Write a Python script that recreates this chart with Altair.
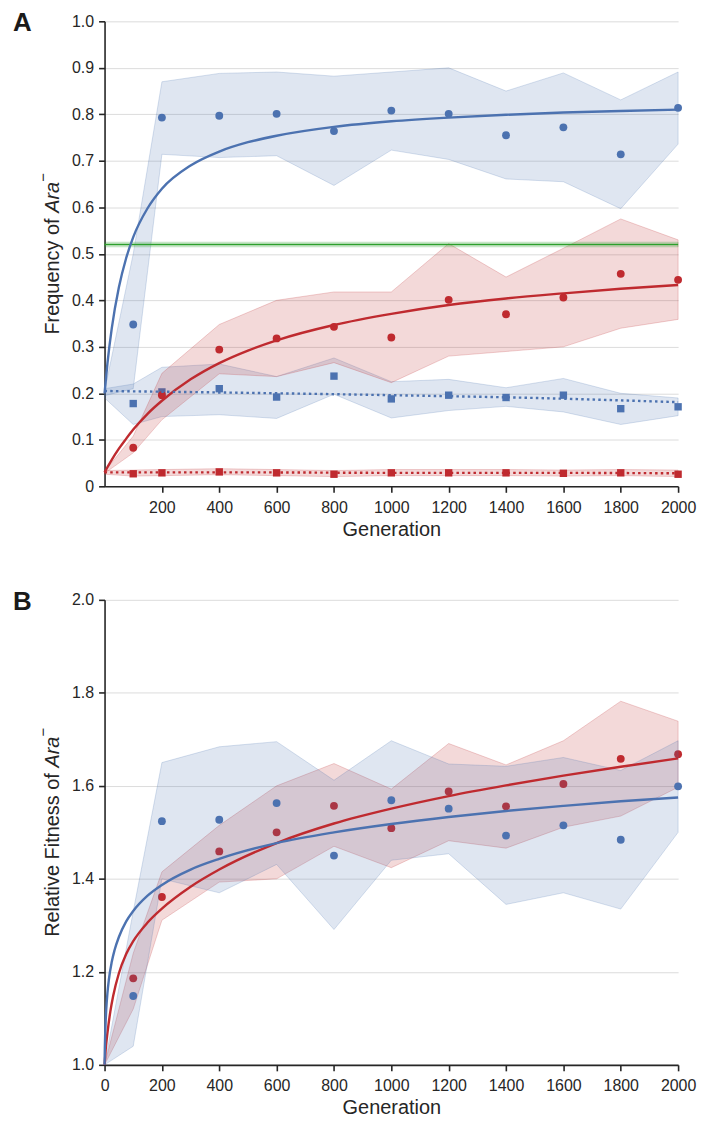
import altair as alt
import pandas as pd

FONT = "Liberation Sans"
BLUE = "#4c72b0"
RED = "#bf2a2f"
GREEN = "#2ca02c"
INK = "#262626"

# ---------------- Panel A data ----------------
gen_pts = [100, 200, 400, 600, 800, 1000, 1200, 1400, 1600, 1800, 2000]
gen_band = [0, 100, 200, 400, 600, 800, 1000, 1200, 1400, 1600, 1800, 2000]

a_blue_circ = [0.348, 0.793, 0.797, 0.801, 0.764, 0.808, 0.801, 0.755, 0.772, 0.714, 0.814]
a_blue_circ_hi = [0.205, 0.50, 0.870, 0.888, 0.891, 0.882, 0.891, 0.900, 0.850, 0.889, 0.831, 0.891]
a_blue_circ_lo = [0.195, 0.21, 0.714, 0.707, 0.711, 0.647, 0.723, 0.703, 0.661, 0.655, 0.597, 0.736]

a_blue_sq = [0.178, 0.203, 0.210, 0.192, 0.237, 0.188, 0.196, 0.191, 0.196, 0.167, 0.171]
a_blue_sq_hi = [0.210, 0.220, 0.256, 0.263, 0.236, 0.276, 0.225, 0.230, 0.212, 0.232, 0.200, 0.190]
a_blue_sq_lo = [0.190, 0.133, 0.150, 0.154, 0.146, 0.198, 0.147, 0.163, 0.172, 0.160, 0.133, 0.152]

a_red_circ = [0.083, 0.196, 0.294, 0.318, 0.343, 0.320, 0.401, 0.370, 0.406, 0.457, 0.444]
a_red_circ_hi = [0.032, 0.108, 0.243, 0.348, 0.400, 0.418, 0.418, 0.522, 0.450, 0.512, 0.575, 0.530]
a_red_circ_lo = [0.028, 0.072, 0.143, 0.242, 0.236, 0.266, 0.223, 0.280, 0.290, 0.300, 0.340, 0.359]

a_red_sq = [0.027, 0.029, 0.031, 0.029, 0.026, 0.029, 0.029, 0.029, 0.028, 0.029, 0.026]
a_red_sq_hi = [0.034, 0.035, 0.036, 0.038, 0.036, 0.034, 0.036, 0.036, 0.036, 0.035, 0.036, 0.035]
a_red_sq_lo = [0.026, 0.022, 0.023, 0.025, 0.023, 0.021, 0.023, 0.023, 0.023, 0.022, 0.023, 0.021]

# fitted curves
a_fit_gen = [0, 10, 25, 50, 75, 100, 150, 200, 300, 400, 500, 600, 800, 1000, 1200, 1400, 1600, 1800, 2000]
a_blue_fit = [0.200, 0.264, 0.339, 0.428, 0.490, 0.536, 0.598, 0.640, 0.690, 0.720, 0.740, 0.754, 0.773,
              0.785, 0.793, 0.799, 0.804, 0.807, 0.810]
a_red_fit = [0.030, 0.041, 0.057, 0.081, 0.102, 0.122, 0.156, 0.184, 0.230, 0.265, 0.292, 0.314, 0.347,
             0.371, 0.390, 0.404, 0.415, 0.425, 0.433]
a_dot_gen = [0, 500, 1000, 1500, 2000]
a_blue_dot = [0.205, 0.201, 0.196, 0.190, 0.181]
a_red_dot = [0.030, 0.030, 0.029, 0.029, 0.028]

green_gen = [0, 2000]
green_val = [0.520, 0.520]
green_hi = [0.525, 0.525]
green_lo = [0.515, 0.515]

# ---------------- Panel B data ----------------
b_blue = [1.148, 1.524, 1.527, 1.563, 1.450, 1.569, 1.551, 1.493, 1.515, 1.484, 1.599]
b_blue_hi = [1.0, 1.33, 1.650, 1.684, 1.695, 1.612, 1.697, 1.647, 1.642, 1.661, 1.633, 1.697]
b_blue_lo = [1.0, 1.04, 1.400, 1.370, 1.431, 1.291, 1.440, 1.454, 1.345, 1.370, 1.335, 1.500]

b_red = [1.186, 1.361, 1.459, 1.500, 1.557, 1.509, 1.588, 1.556, 1.604, 1.658, 1.668]
b_red_hi = [1.0, 1.24, 1.415, 1.515, 1.600, 1.648, 1.593, 1.691, 1.645, 1.697, 1.782, 1.739]
b_red_lo = [1.0, 1.12, 1.311, 1.393, 1.400, 1.470, 1.424, 1.482, 1.466, 1.511, 1.535, 1.597]

b_blue_fit_gen = [0, 1, 2, 4, 6, 10, 15, 25, 35, 50, 75, 100, 150, 200, 300, 400, 600, 800, 1000,
                  1200, 1400, 1600, 1800, 2000]
b_blue_fit = [1.000, 1.036, 1.061, 1.096, 1.120, 1.154, 1.183, 1.221, 1.247, 1.275, 1.308, 1.331,
              1.364, 1.387, 1.420, 1.443, 1.477, 1.500, 1.518, 1.533, 1.546, 1.557, 1.567, 1.575]
b_red_fit_gen = [0, 5, 10, 20, 30, 50, 75, 100, 150, 200, 300, 400, 600, 800, 1000, 1200, 1400,
                 1600, 1800, 2000]
b_red_fit = [1.000, 1.040, 1.068, 1.114, 1.148, 1.197, 1.238, 1.266, 1.306, 1.336, 1.383, 1.420,
             1.477, 1.519, 1.551, 1.578, 1.601, 1.622, 1.641, 1.659]

W, H = 576, 467

# Liberation Sans (Arial metrics) advance widths, 1/1000 em
CW = {"F": 611, "r": 333, "e": 556, "q": 556, "u": 556, "n": 556, "c": 500, "y": 500, " ": 278,
      "o": 556, "f": 278, "R": 722, "l": 222, "a": 556, "t": 278, "i": 222, "v": 500, "s": 500,
      "A": 667, "\u2212": 584}


def tw(s, size):
    return sum(CW.get(ch, 556) for ch in s) * size / 1000.0


def one(df_cols):
    return pd.DataFrame(df_cols)


def band(gens, lo, hi, color, xs, ys):
    df = pd.DataFrame({"g": gens, "lo": lo, "hi": hi})
    return alt.Chart(df).mark_area(color=color, fillOpacity=0.18, stroke=color, strokeOpacity=0.22,
                                   strokeWidth=1).encode(
        x=alt.X("g:Q", scale=xs), y=alt.Y("lo:Q", scale=ys), y2="hi:Q")


def pts(gens, vals, color, shape, size, xs, ys):
    df = pd.DataFrame({"g": gens, "v": vals})
    return alt.Chart(df).mark_point(filled=True, shape=shape, size=size, color=color, opacity=1).encode(
        x=alt.X("g:Q", scale=xs), y=alt.Y("v:Q", scale=ys))


def line(gens, vals, color, xs, ys, dash=None, width=2.4):
    df = pd.DataFrame({"g": gens, "v": vals})
    kw = dict(color=color, strokeWidth=width, interpolate="monotone")
    if dash is not None:
        kw["strokeDash"] = dash
    return alt.Chart(df).mark_line(**kw).encode(x=alt.X("g:Q", scale=xs), y=alt.Y("v:Q", scale=ys))


def label(letter):
    return alt.Chart(one({"t": [letter]})).mark_text(
        align="left", baseline="alphabetic", fontSize=26, fontWeight="bold", font=FONT, color="#1a1a1a"
    ).encode(text="t:N", x=alt.value(-92), y=alt.value(10))


def ytitle(first):
    size = 20
    w1 = tw(first, size)
    w2 = tw("Ara", size)
    w3 = tw("\u2212", 15)
    L = w1 + w2 + w3
    y0 = H / 2 + L / 2
    common = dict(align="left", baseline="alphabetic", angle=270, font=FONT, color=INK)
    t1 = alt.Chart(one({"t": [first]})).mark_text(fontSize=size, **common).encode(
        text="t:N", x=alt.value(-46), y=alt.value(y0))
    t2 = alt.Chart(one({"t": ["Ara"]})).mark_text(fontSize=size, fontStyle="italic", **common).encode(
        text="t:N", x=alt.value(-46), y=alt.value(y0 - w1))
    t3 = alt.Chart(one({"t": ["\u2212"]})).mark_text(fontSize=15, **common).encode(
        text="t:N", x=alt.value(-57), y=alt.value(y0 - w1 - w2))
    return [t1, t2, t3]


def axis_x(values):
    return alt.Axis(values=values, grid=False, tickSize=6, labelPadding=7, labelFlush=False,
                    labelOverlap=False, title="Generation", titlePadding=4, format="d")


# ---------------- Panel A ----------------
xsA = alt.Scale(domain=[0, 2000], nice=False, zero=False)
ysA = alt.Scale(domain=[0, 1], nice=False)

axA = alt.Chart(one({"g": [0], "v": [0]})).mark_point(opacity=0).encode(
    x=alt.X("g:Q", scale=xsA, axis=axis_x([200, 400, 600, 800, 1000, 1200, 1400, 1600, 1800, 2000])),
    y=alt.Y("v:Q", scale=ysA, axis=alt.Axis(values=[0, 0.1, 0.2, 0.3, 0.4, 0.5, 0.6, 0.7, 0.8, 0.9, 1.0],
                                           grid=True, tickSize=6, labelPadding=5, labelFlush=False,
                                           labelOverlap=False, title=None,
                                           labelExpr="datum.value == 0 ? '0' : format(datum.value, '.1f')")))

layersA = [
    axA,
    band(gen_band, a_blue_circ_lo, a_blue_circ_hi, BLUE, xsA, ysA),
    band(gen_band, a_blue_sq_lo, a_blue_sq_hi, BLUE, xsA, ysA),
    pts(gen_pts, a_blue_circ, BLUE, "circle", 62, xsA, ysA),
    pts(gen_pts, a_blue_sq, BLUE, "square", 55, xsA, ysA),
    band(gen_band, a_red_circ_lo, a_red_circ_hi, RED, xsA, ysA),
    band(gen_band, a_red_sq_lo, a_red_sq_hi, RED, xsA, ysA),
    pts(gen_pts, a_red_circ, RED, "circle", 62, xsA, ysA),
    pts(gen_pts, a_red_sq, RED, "square", 55, xsA, ysA),
    band(green_gen, green_lo, green_hi, GREEN, xsA, ysA),
    line(green_gen, green_val, GREEN, xsA, ysA, width=1.5),
    line(a_fit_gen, a_blue_fit, BLUE, xsA, ysA),
    line(a_fit_gen, a_red_fit, RED, xsA, ysA),
    line(a_dot_gen, a_blue_dot, BLUE, xsA, ysA, dash=[2.5, 3.2]),
    line(a_dot_gen, a_red_dot, RED, xsA, ysA, dash=[2.5, 3.2]),
    label("A"),
] + ytitle("Frequency of ")

panelA = alt.layer(*layersA).properties(width=W, height=H)

# ---------------- Panel B ----------------
xsB = alt.Scale(domain=[0, 2000], nice=False, zero=False)
ysB = alt.Scale(domain=[1, 2], nice=False, zero=False)

axB = alt.Chart(one({"g": [0], "v": [1]})).mark_point(opacity=0).encode(
    x=alt.X("g:Q", scale=xsB, axis=axis_x([0, 200, 400, 600, 800, 1000, 1200, 1400, 1600, 1800, 2000])),
    y=alt.Y("v:Q", scale=ysB, axis=alt.Axis(values=[1.0, 1.2, 1.4, 1.6, 1.8, 2.0], grid=True, tickSize=6,
                                           labelPadding=5, labelFlush=False, labelOverlap=False,
                                           title=None, format=".1f")))

layersB = [
    axB,
    band(gen_band, b_red_lo, b_red_hi, RED, xsB, ysB),
    pts(gen_pts, b_red, RED, "circle", 62, xsB, ysB),
    band(gen_band, b_blue_lo, b_blue_hi, BLUE, xsB, ysB),
    pts(gen_pts, b_blue, BLUE, "circle", 62, xsB, ysB),
    line(b_red_fit_gen, b_red_fit, RED, xsB, ysB),
    line(b_blue_fit_gen, b_blue_fit, BLUE, xsB, ysB),
    label("B"),
] + ytitle("Relative Fitness of ")

panelB = alt.layer(*layersB).properties(width=W, height=H)

chart = alt.vconcat(panelA, panelB, spacing=50).properties(
    padding={"left": 13, "top": 8, "right": 5, "bottom": 5}
).configure_view(stroke=None).configure_axis(
    domainColor=INK, tickColor=INK, domainWidth=1.6, tickWidth=1.6,
    labelColor=INK, labelFont=FONT, labelFontSize=16,
    titleColor=INK, titleFont=FONT, titleFontSize=20, titleFontWeight="normal",
    gridColor="#dcdcdc", gridWidth=1
)

chart.save("out.html", embed_options={"renderer": "svg", "actions": False})
